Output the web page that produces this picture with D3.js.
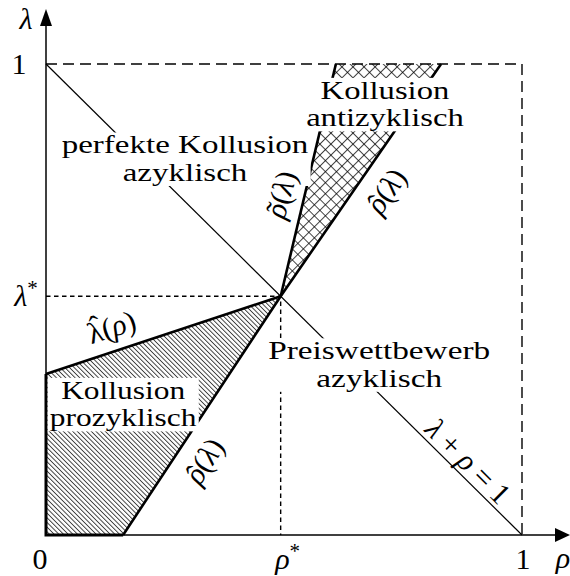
<!DOCTYPE html>
<html>
<head>
<meta charset="utf-8">
<script src="https://cdn.jsdelivr.net/npm/d3@7"></script>
<style>
  body { margin: 0; background: #fff; }
  svg { display: block; }
</style>
</head>
<body>
<svg id="chart" width="570" height="576"></svg>
<script>
// intersection of the curves with lambda + rho = 1
const rhoStar = 0.493, lambdaStar = 0.507;

// curves, as [rho, lambda]
const lambdaHat = [[0, 0.342], [rhoStar, lambdaStar]];
const rhoHat = [[0.162, 0], [rhoStar, lambdaStar], [0.83, 1]];
const rhoTilde = [[rhoStar, lambdaStar], [0.609, 1]];
const budgetLine = [[0, 1], [1, 0]];

// tick labels
const xTickLabels = [[0, "0"], [rhoStar, "ρ*"], [1, "1"]];
const yTickLabels = [[1, "1"], [lambdaStar, "λ*"]];

// region labels
const regionNames = [
  ["Kollusion", "antizyklisch"],
  ["perfekte Kollusion", "azyklisch"],
  ["Preiswettbewerb", "azyklisch"],
  ["Kollusion", "prozyklisch"]
];

const svg = d3.select("#chart").style("font-family", '"Liberation Serif"');
const x = d3.scaleLinear([0, 1], [46, 522]);
const y = d3.scaleLinear([0, 1], [535, 64]);
const line = d3.line().x(d => x(d[0])).y(d => y(d[1]));

// patterns
const defs = svg.append("defs");
const hatch = defs.append("pattern").attr("id", "hatch")
  .attr("patternUnits", "userSpaceOnUse").attr("width", 3.3).attr("height", 10)
  .attr("patternTransform", "rotate(-45)");
hatch.append("line").attr("x1", 0.5).attr("y1", 0).attr("x2", 0.5).attr("y2", 10)
  .attr("stroke", "#000").attr("stroke-width", 0.8);

const cross = defs.append("pattern").attr("id", "cross")
  .attr("patternUnits", "userSpaceOnUse").attr("width", 7.8).attr("height", 7.8)
  .attr("patternTransform", "rotate(45)");
cross.append("path").attr("d", "M0,0.4H7.8M0.4,0V7.8")
  .attr("stroke", "#000").attr("stroke-width", 0.8).attr("fill", "none");

// shaded regions
const proRegion = [[0, 0], lambdaHat[0], [rhoStar, lambdaStar], rhoHat[0]];
const antiRegion = [[rhoStar, lambdaStar], rhoTilde[1], rhoHat[2]];
svg.append("path").attr("d", line(proRegion) + "Z").attr("fill", "url(#hatch)");
svg.append("path").attr("d", line(antiRegion) + "Z").attr("fill", "url(#cross)");

// unit box, dashed
svg.append("path").attr("d", line([[0, 1], [1, 1], [1, 0]]))
  .attr("fill", "none").attr("stroke", "#000").attr("stroke-width", 1.4)
  .attr("stroke-dasharray", "11,6");

// lambda* / rho* guides
svg.append("path").attr("d", line([[0, lambdaStar], [rhoStar, lambdaStar], [rhoStar, 0]]))
  .attr("fill", "none").attr("stroke", "#000").attr("stroke-width", 1.4)
  .attr("stroke-dasharray", "4.5,3.5");

// lambda + rho = 1
svg.append("path").attr("d", line(budgetLine))
  .attr("fill", "none").attr("stroke", "#000").attr("stroke-width", 1.2);

// thick curves
[lambdaHat, rhoHat, rhoTilde].forEach(c => {
  svg.append("path").attr("d", line(c)).attr("fill", "none")
    .attr("stroke", "#000").attr("stroke-width", 2.6).attr("stroke-linejoin", "round");
});
svg.append("path").attr("d", line([lambdaHat[0], [0, 0], rhoHat[0]]))
  .attr("fill", "none").attr("stroke", "#000").attr("stroke-width", 3);

// region labels: one text per block, stretched to the width of the widest line
function block(lines, rho, lam, width) {
  const g = svg.append("g");
  const rect = g.append("rect").attr("fill", "#fff");
  const t = g.append("text").attr("text-anchor", "middle").attr("font-size", 25.5);
  lines.forEach((s, i) => t.append("tspan").attr("x", 0).attr("y", i * 27.5).text(s));
  const b = t.node().getBBox();
  const sx = width / b.width;
  t.attr("transform", `translate(${x(rho)},${y(lam)}) scale(${sx},1)`);
  rect.attr("x", x(rho) + b.x * sx - 2).attr("y", y(lam) + b.y + 2)
    .attr("width", b.width * sx + 4).attr("height", b.height - 3);
}
block(regionNames[0], 0.712, 0.926, 158);
block(regionNames[1], 0.292, 0.81, 247);
block(regionNames[2], 0.70, 0.373, 222);
block(regionNames[3], 0.162, 0.289, 147);

// axes with arrows
svg.append("line").attr("x1", x(0)).attr("y1", y(0)).attr("x2", 556).attr("y2", y(0))
  .attr("stroke", "#000").attr("stroke-width", 1.5);
svg.append("line").attr("x1", x(0)).attr("y1", y(0)).attr("x2", x(0)).attr("y2", 24)
  .attr("stroke", "#000").attr("stroke-width", 1.5);
svg.append("path").attr("d", `M570,${y(0)}L555,${y(0) - 7}L555,${y(0) + 7}Z`).attr("fill", "#000");
svg.append("path").attr("d", `M${x(0)},9L${x(0) - 6},26L${x(0) + 6},26Z`).attr("fill", "#000");

// axis titles
svg.append("text").attr("x", 26).attr("y", 29).attr("text-anchor", "middle")
  .attr("font-size", 30).attr("font-style", "italic").text("λ");
svg.append("text").attr("x", 563).attr("y", 568).attr("text-anchor", "middle")
  .attr("font-size", 30).attr("font-style", "italic").text("ρ");

// tick labels
function mathLabel(t, s) {
  const base = s.replace("*", "");
  const isGreek = /[λρ]/.test(base);
  t.append("tspan").attr("font-style", isGreek ? "italic" : null).text(base);
  if (s.includes("*")) t.append("tspan").attr("font-size", 21).attr("dy", -11).text("*");
}
xTickLabels.forEach(([v, s]) => {
  const dx = v === 0 ? -6 : (s.includes("*") ? 7 : 1);
  const t = svg.append("text").attr("x", x(v) + dx).attr("y", 569)
    .attr("text-anchor", "middle").attr("font-size", 30);
  mathLabel(t, s);
});
yTickLabels.forEach(([v, s]) => {
  const t = svg.append("text").attr("x", s.includes("*") ? 26 : 19).attr("y", y(v) + 10)
    .attr("text-anchor", "middle").attr("font-size", 30);
  mathLabel(t, s);
});

// curve labels; the accent is drawn over the first letter
function curveLabel(letter, accent, arg, rho, lam, angle) {
  const g = svg.append("g")
    .attr("transform", `translate(${x(rho)},${y(lam)}) rotate(${angle})`);
  const t = g.append("text").attr("text-anchor", "middle").attr("y", 8).attr("font-size", 30);
  const first = t.append("tspan").attr("font-style", letter === "ρ" ? "italic" : null).text(letter);
  t.append("tspan").text("(");
  t.append("tspan").attr("font-style", "italic").text(arg);
  t.append("tspan").text(")");
  const b = first.node().getBBox();
  g.append("text").attr("x", b.x + b.width / 2 + 2).attr("y", letter === "λ" ? 2 : 8)
    .attr("text-anchor", "middle").attr("font-size", 30).text(accent);
}
curveLabel("ρ", "\u02DC", "λ", 0.498, 0.722, -74);
curveLabel("ρ", "\u02C6", "λ", 0.718, 0.728, -55);
curveLabel("ρ", "\u02C6", "λ", 0.336, 0.155, -57);
curveLabel("λ", "\u02C6", "ρ", 0.139, 0.437, -18);

const eq = svg.append("text")
  .attr("transform", `translate(${x(0.884)},${y(0.153)}) rotate(45)`)
  .attr("text-anchor", "middle").attr("y", 8).attr("font-size", 30);
[["λ", true], [" + ", false], ["ρ", true], [" = 1", false]]
  .forEach(([s, it]) => eq.append("tspan").attr("font-style", it ? "italic" : null).text(s));
</script>
</body>
</html>
